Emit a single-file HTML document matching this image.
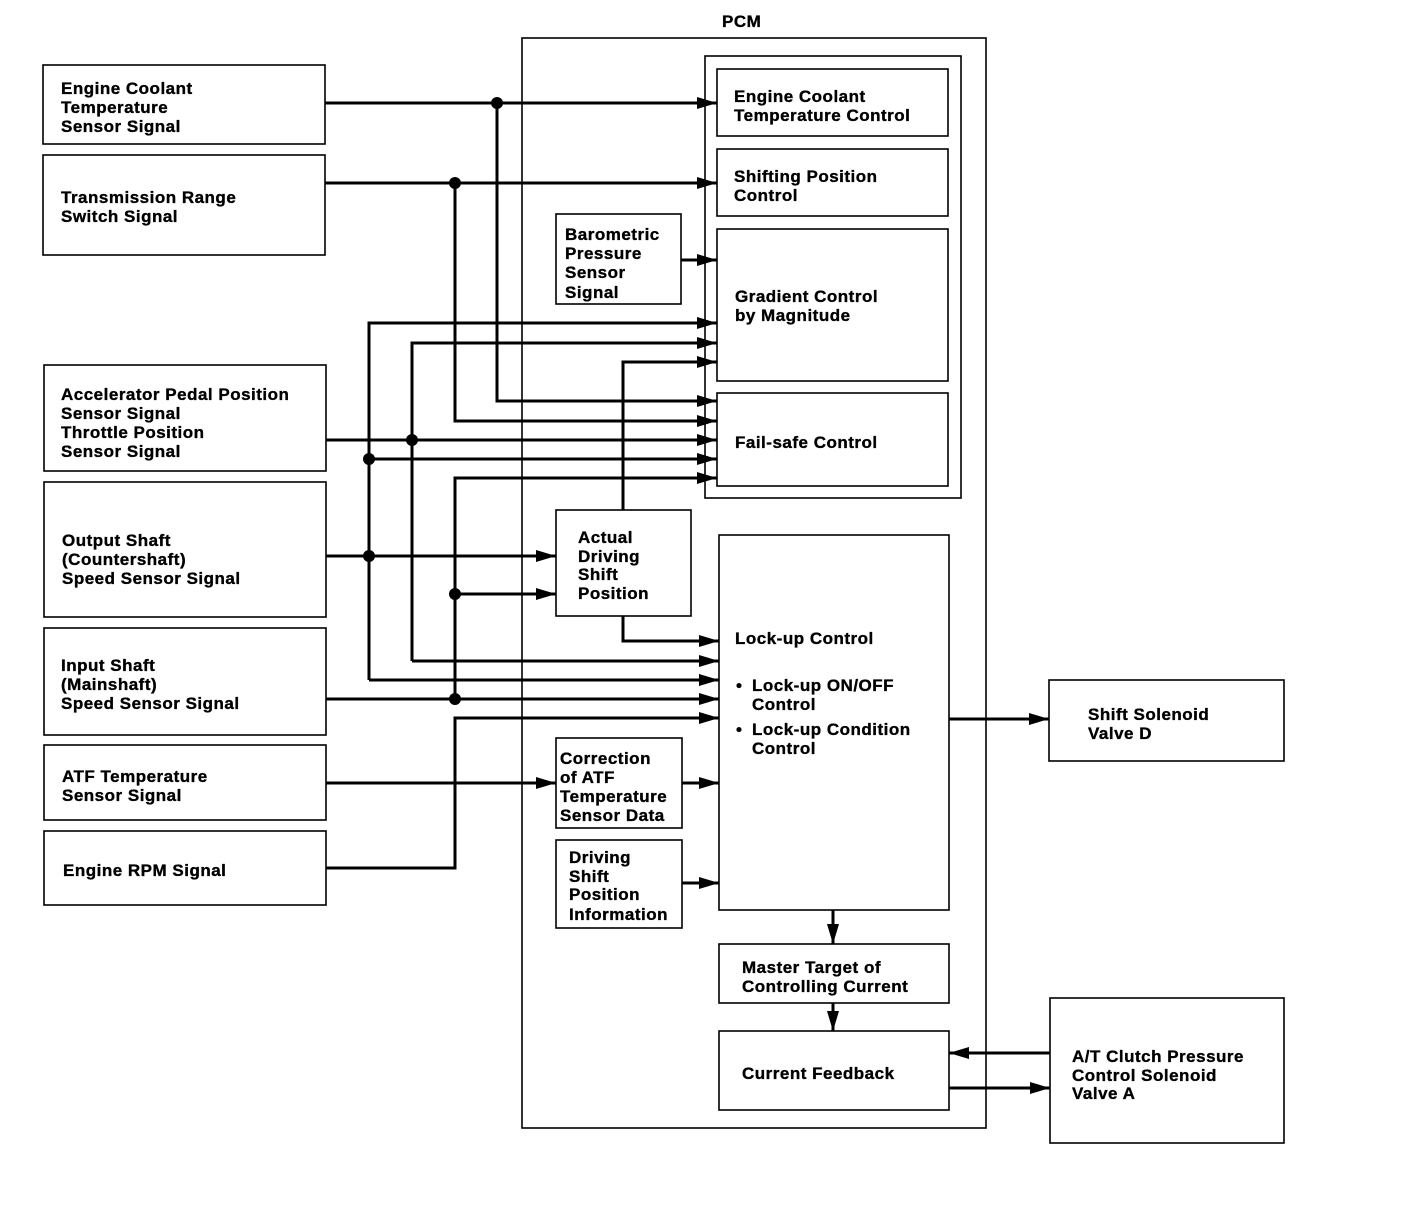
<!DOCTYPE html>
<html><head><meta charset="utf-8"><style>
html,body{margin:0;padding:0;background:#fff}
svg{display:block}
text{font-family:"Liberation Sans",Arial,sans-serif;font-weight:bold;font-size:17px;fill:#000;stroke:#000;stroke-width:0.35;letter-spacing:0.5px}
</style></head><body>
<svg width="1408" height="1230" viewBox="0 0 1408 1230" xmlns="http://www.w3.org/2000/svg">
<defs>
<marker id="a" markerWidth="20" markerHeight="12" refX="20" refY="6" orient="auto" markerUnits="userSpaceOnUse">
<path d="M0,0 L20,6 L0,12 z" fill="#000"/></marker>
</defs>
<g fill="none" stroke="#000" stroke-width="1.6">
<rect x="43" y="65" width="282" height="79"/>
<rect x="43" y="155" width="282" height="100"/>
<rect x="44" y="365" width="282" height="106"/>
<rect x="44" y="482" width="282" height="135"/>
<rect x="44" y="628" width="282" height="107"/>
<rect x="44" y="745" width="282" height="75"/>
<rect x="44" y="831" width="282" height="74"/>
<rect x="522" y="38" width="464" height="1090"/>
<rect x="705" y="56" width="256" height="442"/>
<rect x="717" y="69" width="231" height="67"/>
<rect x="717" y="149" width="231" height="67"/>
<rect x="717" y="229" width="231" height="152"/>
<rect x="717" y="393" width="231" height="93"/>
<rect x="556" y="214" width="125" height="90"/>
<rect x="556" y="510" width="135" height="106"/>
<rect x="719" y="535" width="230" height="375"/>
<rect x="556" y="738" width="126" height="90"/>
<rect x="556" y="840" width="126" height="88"/>
<rect x="719" y="944" width="230" height="59"/>
<rect x="719" y="1031" width="230" height="79"/>
<rect x="1049" y="680" width="235" height="81"/>
<rect x="1050" y="998" width="234" height="145"/>
</g>
<g fill="none" stroke="#000" stroke-width="3">
<path d="M325,103 H717" marker-end="url(#a)"/>
<path d="M325,183 H717" marker-end="url(#a)"/>
<path d="M681,260 H717" marker-end="url(#a)"/>
<path d="M369,680 V323 H717" marker-end="url(#a)"/>
<path d="M412,661 V343 H717" marker-end="url(#a)"/>
<path d="M623,510 V362 H717" marker-end="url(#a)"/>
<path d="M497,103 V401 H717" marker-end="url(#a)"/>
<path d="M455,183 V421 H717" marker-end="url(#a)"/>
<path d="M326,440 H717" marker-end="url(#a)"/>
<path d="M369,459 H717" marker-end="url(#a)"/>
<path d="M455,699 V478 H717" marker-end="url(#a)"/>
<path d="M326,556 H556" marker-end="url(#a)"/>
<path d="M455,594 H556" marker-end="url(#a)"/>
<path d="M623,616 V641 H719" marker-end="url(#a)"/>
<path d="M412,661 H719" marker-end="url(#a)"/>
<path d="M369,680 H719" marker-end="url(#a)"/>
<path d="M326,699 H719" marker-end="url(#a)"/>
<path d="M326,868 H455 V718 H719" marker-end="url(#a)"/>
<path d="M326,783 H556" marker-end="url(#a)"/>
<path d="M682,783 H719" marker-end="url(#a)"/>
<path d="M682,883 H719" marker-end="url(#a)"/>
<path d="M949,719 H1049" marker-end="url(#a)"/>
<path d="M833,910 V944" marker-end="url(#a)"/>
<path d="M833,1003 V1031" marker-end="url(#a)"/>
<path d="M1050,1053 H949" marker-end="url(#a)"/>
<path d="M949,1088 H1050" marker-end="url(#a)"/>
</g>
<g fill="#000">
<circle cx="497" cy="103" r="6"/><circle cx="455" cy="183" r="6"/>
<circle cx="412" cy="440" r="6"/><circle cx="369" cy="459" r="6"/>
<circle cx="369" cy="556" r="6"/><circle cx="455" cy="594" r="6"/>
<circle cx="455" cy="699" r="6"/>
</g>
<text x="722" y="27">PCM</text>
<text x="61" y="94">Engine Coolant</text><text x="61" y="113">Temperature</text><text x="61" y="132">Sensor Signal</text>
<text x="61" y="203">Transmission Range</text><text x="61" y="222">Switch Signal</text>
<text x="61" y="400">Accelerator Pedal Position</text><text x="61" y="419">Sensor Signal</text><text x="61" y="438">Throttle Position</text><text x="61" y="457">Sensor Signal</text>
<text x="62" y="546">Output Shaft</text><text x="62" y="565">(Countershaft)</text><text x="62" y="584">Speed Sensor Signal</text>
<text x="61" y="671">Input Shaft</text><text x="61" y="690">(Mainshaft)</text><text x="61" y="709">Speed Sensor Signal</text>
<text x="62" y="782">ATF Temperature</text><text x="62" y="801">Sensor Signal</text>
<text x="63" y="876">Engine RPM Signal</text>
<text x="734" y="102">Engine Coolant</text><text x="734" y="121">Temperature Control</text>
<text x="734" y="182">Shifting Position</text><text x="734" y="201">Control</text>
<text x="565" y="240">Barometric</text><text x="565" y="259">Pressure</text><text x="565" y="278">Sensor</text><text x="565" y="298">Signal</text>
<text x="735" y="302">Gradient Control</text><text x="735" y="321">by Magnitude</text>
<text x="735" y="448">Fail-safe Control</text>
<text x="578" y="543">Actual</text><text x="578" y="562">Driving</text><text x="578" y="580">Shift</text><text x="578" y="599">Position</text>
<text x="735" y="644">Lock-up Control</text>
<text x="736" y="691">•</text><text x="752" y="691">Lock-up ON/OFF</text><text x="752" y="710">Control</text>
<text x="736" y="735">•</text><text x="752" y="735">Lock-up Condition</text><text x="752" y="754">Control</text>
<text x="560" y="764">Correction</text><text x="560" y="783">of ATF</text><text x="560" y="802">Temperature</text><text x="560" y="821">Sensor Data</text>
<text x="569" y="863">Driving</text><text x="569" y="882">Shift</text><text x="569" y="900">Position</text><text x="569" y="920">Information</text>
<text x="742" y="973">Master Target of</text><text x="742" y="992">Controlling Current</text>
<text x="742" y="1079">Current Feedback</text>
<text x="1088" y="720">Shift Solenoid</text><text x="1088" y="739">Valve D</text>
<text x="1072" y="1062">A/T Clutch Pressure</text><text x="1072" y="1081">Control Solenoid</text><text x="1072" y="1099">Valve A</text>
</svg>
</body></html>
